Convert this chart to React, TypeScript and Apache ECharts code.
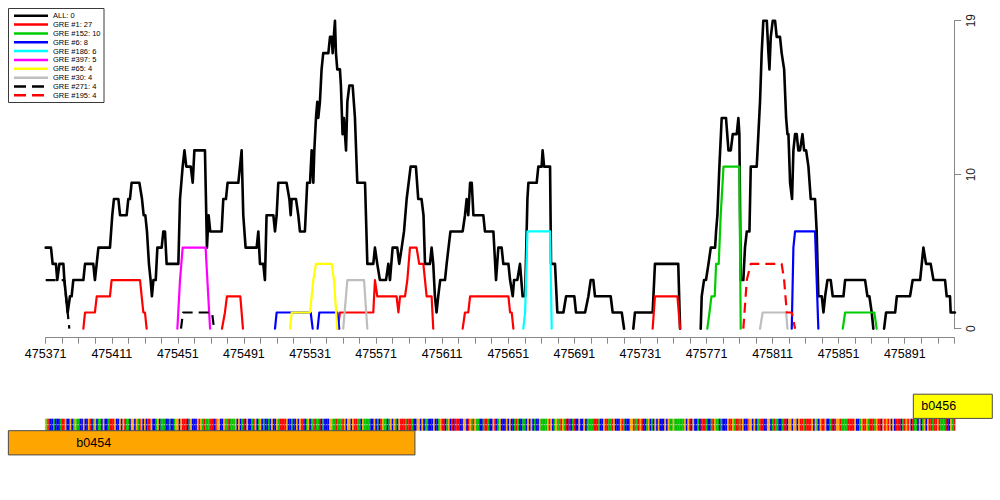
import React, { useEffect, useRef } from 'react';
import * as echarts from 'echarts';

// ---------- axes ----------
const X0 = 475371; // first position shown
const X_MAX = 475921;
const X_TICK_STEP = 10;
const X_LABELS = [475371, 475411, 475451, 475491, 475531, 475571, 475611, 475651, 475691, 475731, 475771, 475811, 475851, 475891];
const Y_TICKS = [0, 9.5, 19];
const Y_LABELS = ['0', '10', '19'];

// ---------- series (points are [offset from X0, count]; null = gap) ----------
const ALL_PTS: ([number, number] | null)[] = [
  [0, 5], [3.2, 5], [4.2, 4], [6.2, 4], [7, 3], [8.3, 4], [10.7, 4], [11.3, 3], [12.3, 2], [13.3, 1], [14.7, 2], [15.7, 2],
  [16.7, 3], [22.8, 3], [23.8, 4], [28.8, 4], [29.8, 3], [31.9, 5], [38.9, 5], [40.3, 7], [41.3, 8], [44, 8], [45, 7], [49, 7],
  [50, 8], [51, 8], [52, 9], [56.7, 9], [58.3, 8], [59.3, 7], [60.3, 7], [61.3, 6], [62.5, 4], [63.5, 3], [64.3, 2], [65.2, 3],
  [66.6, 3], [67.6, 5], [70.2, 5], [71.2, 6], [72.2, 6], [73.2, 4], [80.3, 4], [81.3, 8], [82.9, 10], [84, 11], [85.1, 10],
  [87.8, 10], [89, 9], [90, 11], [96.4, 11], [97.6, 5], [98.6, 7], [99.6, 6], [106.5, 6], [107.5, 8], [109.1, 8], [110.1, 9],
  [116.6, 9], [117.6, 10], [118.6, 11], [119.6, 7], [121, 5], [127.7, 5], [128.7, 6], [129.7, 4], [131.7, 4], [132.7, 3],
  [133.7, 7], [137.8, 7], [138.8, 6], [139.8, 7], [140.8, 9], [145.8, 9], [147.5, 8], [148.3, 7], [148.9, 8], [151.5, 8],
  [152.9, 7], [153.9, 6], [156.9, 6], [158.3, 9], [160, 9], [161, 11], [162, 9], [162.6, 11], [163.6, 13], [164.4, 14],
  [165, 13], [166, 14], [167, 16], [168, 17], [171.1, 17], [172.1, 18], [173.1, 18], [173.7, 17], [175.1, 19], [175.7, 17],
  [176.5, 16], [178.1, 16], [178.7, 15], [179.7, 12], [180.5, 13], [181.8, 11], [182.6, 14], [183.8, 15], [185.8, 15],
  [187.2, 13], [188.6, 9], [193.3, 9], [194.7, 4], [198.3, 4], [199.3, 5], [200.7, 4], [202.3, 3], [206, 3], [207.4, 4],
  [208.4, 3], [210, 5], [212.8, 5], [214, 4], [215.5, 5], [216.9, 6], [218.5, 8], [220.9, 10], [224.1, 10], [225.5, 8],
  [227.5, 8], [228.7, 7], [229.6, 4], [232.6, 4], [233.6, 5], [234.6, 4], [235.6, 2], [236.6, 1], [237.6, 2], [238.8, 3],
  [241.7, 3], [242.7, 4], [245, 6], [252.4, 6], [253.8, 7], [254.8, 8], [255.8, 7], [256.9, 9], [257.9, 9], [258.9, 7],
  [264.9, 7], [265.9, 6], [271, 6], [272.6, 3], [274, 5], [276, 5], [277, 4], [280.1, 4], [281.1, 3], [282.7, 2], [283.5, 3],
  [285.5, 3], [287.1, 4], [288.7, 2], [290.2, 2], [291.6, 8], [292.2, 9], [297.2, 9], [298.2, 10], [300.2, 10], [300.8, 11],
  [301.7, 10], [305.3, 10], [305.9, 4], [308.3, 4], [309.7, 1], [313.4, 1], [315, 2], [320, 2], [321, 1], [326.5, 1],
  [328.5, 2], [329.9, 3], [331.5, 3], [332.5, 2], [342, 2], [343.2, 1], [348.7, 1], [350.1, 0], null,
  [355.7, 0], [356.7, 1], [367.4, 1], [368.8, 4], [382.9, 4], [384, 0], null,
  [396.5, 0], [397.1, 2], [398.5, 3], [399.7, 3], [401.2, 4], [402.6, 5], [405.2, 5], [405.8, 6], [406.6, 7], [407.8, 10],
  [409.2, 13], [411.8, 13], [413.3, 11], [414.7, 11], [415.9, 12], [418.3, 12], [419.3, 13], [419.9, 12], [420.7, 3],
  [422.3, 3], [423.3, 5], [424.4, 6], [426, 6], [426.8, 10], [430.4, 10], [431.4, 12], [432.4, 14], [433.4, 17], [434.4, 19],
  [436.5, 19], [437.5, 17], [438.1, 16], [438.9, 18], [440.1, 19], [441.5, 19], [442.5, 18], [444.5, 18], [445.5, 17],
  [447, 16], [448.2, 13], [449, 12], [449.6, 12], [450.6, 9], [451.8, 8], [452.6, 11], [453.6, 12], [454.6, 12], [455.6, 11],
  [456.6, 11], [458.1, 12], [459.1, 11], [460.3, 11], [461.7, 10], [463.1, 8], [465.7, 8], [466.7, 6], [467.7, 2], [469.8, 2],
  [470.8, 1], [471.8, 2], [473.2, 3], [475.2, 3], [476.4, 2], [482.9, 2], [483.9, 3], [496, 3], [497.4, 2], [498.6, 2],
  [500, 1], [501, 0], null,
  [507.5, 0], [508.7, 1], [514.2, 1], [515.2, 2], [523.2, 2], [524.8, 3], [529.3, 3], [531.3, 5], [532.9, 4], [535.7, 4],
  [537.4, 3], [544.4, 3], [545.4, 2], [547.4, 2], [547.8, 1], [550.4, 1],
];
const GRE1_PTS: ([number, number] | null)[] = [
  [22.8, 0], [23.8, 1], [29.8, 1], [30.9, 2], [38.9, 2], [39.9, 3], [57.1, 3], [59.1, 1], [60.1, 1], [61.1, 0], null,
  [106.7, 0], [108.5, 1], [109.7, 2], [117.8, 2], [119.4, 0], null,
  [176.8, 0], [178.1, 1], [198.3, 1], [199.3, 3], [200.7, 2], [212.4, 2], [213.5, 1], [214.5, 2], [217.5, 2], [218.9, 3],
  [220.5, 5], [224.5, 5], [226.1, 4], [228.6, 4], [229.6, 3], [230.6, 2], [233.6, 2], [234.6, 0], null,
  [252.4, 0], [253.8, 1], [255.8, 1], [256.9, 2], [280.1, 2], [281.1, 1], [282.1, 1], [283.1, 0], null,
  [367.4, 0], [368.8, 2], [382.4, 2], [384, 0],
];
const GRE152_PTS: ([number, number] | null)[] = [
  [400.5, 0], [401.8, 1], [403, 2], [405, 2], [405.8, 4], [407.4, 4], [408.6, 7], [410.3, 10], [419.9, 10], [420.7, 0], null,
  [482.5, 0], [483.9, 1], [501.6, 1], [503, 0],
];
const GRE6_PTS: ([number, number] | null)[] = [
  [138.8, 0], [139.8, 1], [160.4, 1], [161.6, 0], null,
  [164.6, 0], [165.6, 1], [176.5, 1], [177.7, 0], null,
  [451.6, 0], [452.6, 5], [453.6, 6], [465.7, 6], [467.7, 0],
];
const GRE186_PTS: ([number, number] | null)[] = [[289.1, 0], [290.2, 1], [291.6, 6], [305.3, 6], [306.3, 0]];
const GRE397_PTS: ([number, number] | null)[] = [[79.7, 0], [81.3, 3], [82.9, 5], [96.8, 5], [98.4, 2], [99.5, 0]];
const GRE65_PTS: ([number, number] | null)[] = [
  [147.9, 0], [148.9, 1], [160, 1], [161, 2], [162, 3], [163.6, 4], [173.1, 4], [174.5, 3], [176.5, 0],
];
const GRE30_PTS: ([number, number] | null)[] = [
  [180.1, 0], [182.6, 3], [192.7, 3], [194.7, 0], null,
  [432.4, 0], [434, 1], [448.2, 1], [449, 0],
];
const GRE271_PTS: ([number, number] | null)[] = [
  [0, 3], [11.3, 3], [12.3, 2], [13.3, 1], [14.3, 0], null,
  [81.9, 0], [83.1, 1], [100.7, 1], [101.9, 0],
];
const GRE195_PTS: ([number, number] | null)[] = [
  [422.3, 0], [424.4, 3], [426.8, 4], [445.5, 4], [447, 3], [448.6, 1], [451.6, 1], [453.6, 0],
];

const SERIES_NAMES = ['ALL: 0', 'GRE #1: 27', 'GRE #152: 10', 'GRE #6: 8', 'GRE #186: 6', 'GRE #397: 5', 'GRE #65: 4', 'GRE #30: 4', 'GRE #271: 4', 'GRE #195: 4'];
const SERIES_PTS = [ALL_PTS, GRE1_PTS, GRE152_PTS, GRE6_PTS, GRE186_PTS, GRE397_PTS, GRE65_PTS, GRE30_PTS, GRE271_PTS, GRE195_PTS];
const SERIES_COLORS = ['#000000', '#FF0000', '#00CD00', '#0000FF', '#00FFFF', '#FF00FF', '#FFFF00', '#BEBEBE', '#000000', '#FF0000'];
const SERIES_DASHED = [false, false, false, false, false, false, false, false, true, true];

// ---------- sequence track ----------
const SEQ_CHUNKS = [
  'GATCCACCCATTGCCGCAGAACCGCCGTCAGCAACGCCATTTGCCGCGTA',
  'ACGGCGATGCGCTTGCCAGCAAACCACCAGGCGTTTCAGCCCGTGATAAA',
  'TTCTGGCCGAATAAAGCGCATCGCCATGCAGCACCACGCCGATTTTGCCA',
  'CCGCGTTCAGCAATAATCACCCGGAATAAATGCGGCGTTAACGAAAACCG',
  'CACTGAACAGCGACGTTTATTTACCGGCGCAACCCGCCAGTTCAGCTCTT',
  'TCCGGCTGATGAACCATTACCGTCAGCCCGCGCCATACCAACGCGCACCG',
  'AAAAGTGCAGAATGATCTCATCCGCCGCAAAATTTACCGTTAATGCCCGT',
  'ACCCGGTAATGTCCAGCACGCGCCCGCGAAGAAAAAAGCGTCGCCACTTT',
  'ACCATGAACACCCGTTGATTATGCCTGGCGCAATTCCGGCATAACCATTC',
  'GGCGGCGTTATTTTGCGACGTTGCCATCTGGTAAAATTTTGCCAGTTGAT',
  'TTAGTTCGTGTGCGCTTTCATGTGCTAACGCAGCGTTATTGTAAATCCGA',
  'T',
];
const SEQUENCE = SEQ_CHUNKS.join('');
const BASES = 'ACGT';
const BASE_COLORS = ['#00C000', '#0000F0', '#FFA500', '#FF0000'];

// genes: [start, end, row] (row 0 = lower strand row, 1 = upper)
const GENE_NAMES = ['b0454', 'b0456'];
const GENES: [number, number, number][] = [
  [475348.4, 475594.5, 0],
  [475896.2, 475944, 1],
];
const GENE_COLORS = ['#FFA500', '#FFFF00'];

const FONT = '"Liberation Sans", Arial, Helvetica, sans-serif';

function toData(pts: ([number, number] | null)[]) {
  const out: any[] = [];
  pts.forEach((p) => {
    if (p) out.push([X0 + p[0], p[1]]);
    else out.push(['-', '-']);
  });
  return out;
}

function buildOption(): any {
  const lineSeries = SERIES_PTS.map((pts, i) => ({
    type: 'line',
    name: SERIES_NAMES[i],
    data: toData(pts),
    showSymbol: false,
    symbol: 'none',
    clip: false,
    silent: true,
    connectNulls: false,
    z: 3 + i,
    lineStyle: {
      color: SERIES_COLORS[i],
      width: i === 0 ? 2.6 : 2.2,
      type: SERIES_DASHED[i] ? [10, 6] : 'solid',
      cap: SERIES_DASHED[i] ? 'butt' : 'round',
      join: 'round',
    },
  }));

  const seqSeries = {
    type: 'custom',
    name: 'sequence',
    silent: true,
    clip: false,
    z: 1,
    data: SEQUENCE.split('').map((b, i) => [X0 + i, BASES.indexOf(b)]),
    renderItem: (params: any, api: any) => {
      const x = api.value(0);
      const code = api.value(1);
      const l = api.coord([x - 0.5, 0])[0];
      const r = api.coord([x + 0.5, 0])[0];
      const w = r - l;
      return {
        type: 'group',
        children: [
          { type: 'rect', shape: { x: l, y: 418.7, width: w + 0.2, height: 12 }, style: { fill: BASE_COLORS[code] } },
          { type: 'rect', shape: { x: l + w * 0.3, y: 424, width: w * 0.4, height: 1.2 }, style: { fill: '#ffffff', opacity: 0.8 } },
        ],
      };
    },
  };

  const geneSeries = {
    type: 'custom',
    name: 'genes',
    silent: true,
    clip: false,
    z: 2,
    data: GENES,
    renderItem: (params: any, api: any) => {
      const s = api.value(0);
      const e = api.value(1);
      const row = api.value(2);
      const l = api.coord([s, 0])[0];
      const r = api.coord([e, 0])[0];
      const top = row === 0 ? 430.7 : 394.2;
      const h = 24.2;
      const dx = row === 0 ? 68 : 8;
      return {
        type: 'group',
        children: [
          {
            type: 'rect',
            shape: { x: l, y: top, width: r - l, height: h },
            style: { fill: GENE_COLORS[params.dataIndex], stroke: '#4a4a4a', lineWidth: 1 },
          },
          {
            type: 'text',
            style: {
              text: GENE_NAMES[params.dataIndex],
              x: l + dx,
              y: top + h / 2,
              fill: '#000',
              font: `12.5px ${FONT}`,
              align: 'left',
              verticalAlign: 'middle',
              textAlign: 'left',
              textVerticalAlign: 'middle',
            },
          },
        ],
      };
    },
  };

  // legend drawn as graphic
  const legendEls: any[] = [
    { type: 'rect', shape: { x: 8.5, y: 8.5, width: 95.5, height: 94 }, style: { fill: '#fff', stroke: '#3a3a3a', lineWidth: 1 }, z: 100 },
  ];
  SERIES_NAMES.forEach((name, i) => {
    const y = 15.7 + i * 8.85;
    legendEls.push({
      type: 'line',
      shape: { x1: 14, y1: y, x2: 48, y2: y },
      style: { stroke: SERIES_COLORS[i], lineWidth: 2.5, lineDash: SERIES_DASHED[i] ? [12, 6] : null },
      z: 101,
    });
    legendEls.push({
      type: 'text',
      style: {
        text: name,
        x: 53,
        y: y,
        fill: '#000',
        font: `7.5px ${FONT}`,
        align: 'left',
        verticalAlign: 'middle',
        textAlign: 'left',
        textVerticalAlign: 'middle',
      },
      z: 101,
    });
  });

  return {
    animation: false,
    backgroundColor: '#ffffff',
    grid: { left: 45.7, right: 45.7, top: 20.7, bottom: 171.3, containLabel: false },
    xAxis: {
      type: 'value',
      min: X0,
      max: X_MAX,
      interval: X_TICK_STEP,
      offset: 9,
      axisLine: { show: true, onZero: false, lineStyle: { color: '#888888', width: 1 } },
      axisTick: { show: true, length: 6, lineStyle: { color: '#888888', width: 1 } },
      axisLabel: {
        show: true,
        margin: 10,
        color: '#000',
        fontFamily: FONT,
        fontSize: 12.5,
        formatter: (v: number) => {
          const k = Math.round(v);
          return X_LABELS.includes(k) ? String(k) : '';
        },
      },
      splitLine: { show: false },
    },
    yAxis: {
      type: 'value',
      position: 'right',
      min: 0,
      max: 19,
      interval: 9.5,
      axisLine: { show: true, onZero: false, lineStyle: { color: '#888888', width: 1 } },
      axisTick: { show: true, length: 7, lineStyle: { color: '#888888', width: 1 } },
      axisLabel: {
        show: true,
        rotate: 90,
        margin: 11,
        color: '#222',
        fontFamily: FONT,
        fontSize: 12,
        formatter: (v: number) => {
          const idx = Y_TICKS.findIndex((t) => Math.abs(t - v) < 1e-6);
          return idx >= 0 ? Y_LABELS[idx] : '';
        },
      },
      splitLine: { show: false },
    },
    graphic: { elements: legendEls },
    series: [seqSeries, geneSeries, ...lineSeries],
  };
}

export default function App() {
  const ref = useRef<HTMLDivElement>(null);
  useEffect(() => {
    if (!ref.current) return;
    const chart = echarts.init(ref.current, null, { renderer: 'svg' });
    chart.setOption(buildOption());
    return () => chart.dispose();
  }, []);
  return (
    <div
      ref={ref}
      style={{ position: 'fixed', left: 0, top: 0, width: 1000, height: 500, background: '#fff' }}
    />
  );
}
